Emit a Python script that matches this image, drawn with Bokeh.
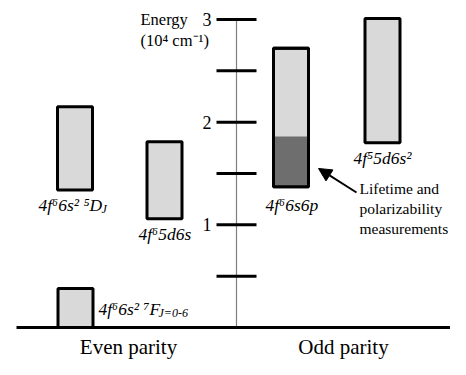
from bokeh.plotting import figure
from bokeh.models import Range1d, ColumnDataSource, Arrow, NormalHead
from bokeh.core.properties import value
from bokeh.embed import file_html
from bokeh.resources import INLINE

# ---- data (energies in 10^4 cm^-1) ----
configs = ["4f⁶6s² ⁷F", "4f⁶6s² ⁵D", "4f⁶5d6s", "4f⁶6s6p", "4f⁵5d6s²"]
subscripts = ["J=0-6", "J", "", "", ""]
e_low = [0.0, 1.34, 1.06, 1.37, 1.80]
e_high = [0.38, 2.15, 1.81, 2.72, 3.01]
measured_low = [1.37]
measured_high = [1.86]
tick_values = [0.5, 1.0, 1.5, 2.0, 2.5, 3.0]
tick_labels = ["1", "2", "3"]
tick_label_values = [1.0, 2.0, 3.0]
parity_labels = ["Even parity", "Odd parity"]
note_lines = ["Lifetime and", "polarizability", "measurements"]

# ---- layout (screen-x units, energy for y) ----
box_x = [75, 74.5, 164, 290.5, 382]
box_w = 35
label_x = [98, 38, 138, 265, 353]
label_y = [0.185, 1.19, 0.915, 1.19, 1.655]
sub_x = [158, 101, 0, 0, 0]
sub_y = [0.14, 1.15, 0, 0, 0]
axis_x = 236
FONT = value("Liberation Serif")

p = figure(width=450, height=359, output_backend="svg", toolbar_location=None,
           x_axis_type=None, y_axis_type=None,
           x_range=Range1d(0, 450), y_range=Range1d(-0.3116, 3.185),
           min_border=0, outline_line_color=None)
p.xgrid.visible = False
p.ygrid.visible = False

# energy axis: dotted vertical line + ticks
p.line([axis_x, axis_x], [0, 3.0], line_color="black", line_width=1.2, line_dash="1 1")
p.segment(x0=[axis_x - 20] * len(tick_values), x1=[axis_x + 20] * len(tick_values),
          y0=tick_values, y1=tick_values, line_color="black", line_width=3)
p.text(x=[211] * 3, y=tick_label_values, text=tick_labels, text_font=FONT,
       text_font_size="18px", text_align="right", text_baseline="middle")
p.text(x=[140, 140], y=[3.0, 2.795], text=["Energy", "(10⁴ cm⁻¹)"], text_font=FONT,
       text_font_size="16.5px", text_align="left", text_baseline="middle")

# baseline
p.line([16, 466], [0, 0], line_color="black", line_width=3)

# level boxes
src = ColumnDataSource(dict(left=[x - box_w / 2 for x in box_x],
                            right=[x + box_w / 2 for x in box_x],
                            bottom=e_low, top=e_high))
p.quad(left="left", right="right", bottom="bottom", top="top", source=src,
       fill_color="#d9d9d9", line_color="black", line_width=3)
# measured (dark) part of 4f6 6s6p
i6p = 3
p.quad(left=[box_x[i6p] - box_w / 2], right=[box_x[i6p] + box_w / 2],
       bottom=measured_low, top=measured_high,
       fill_color="#6e6e6e", line_color=None)
p.quad(left=[box_x[i6p] - box_w / 2], right=[box_x[i6p] + box_w / 2],
       bottom=[e_low[i6p]], top=[e_high[i6p]],
       fill_color=None, line_color="black", line_width=3)

# configuration labels
p.text(x=label_x, y=label_y, text=configs, text_font=FONT, text_font_style="italic",
       text_font_size="17.5px", text_align="left", text_baseline="middle")
sx = [sub_x[i] for i in range(len(subscripts)) if subscripts[i]]
sy = [sub_y[i] for i in range(len(subscripts)) if subscripts[i]]
st = [s for s in subscripts if s]
p.text(x=sx, y=sy, text=st, text_font=FONT, text_font_style="italic",
       text_font_size="12px", text_align="left", text_baseline="middle")

# note + arrow
p.text(x=[359] * 3, y=[1.354, 1.159, 0.964], text=note_lines, text_font=FONT,
       text_font_size="15.5px", text_align="left", text_baseline="middle")
p.add_layout(Arrow(end=NormalHead(size=13, fill_color="black", line_color="black"),
                   x_start=356, y_start=1.315, x_end=318, y_end=1.549,
                   line_color="black", line_width=2))

# parity labels
p.text(x=[128, 343], y=[-0.305, -0.305], text=parity_labels, text_font=FONT,
       text_font_size="21px", text_align="center", text_baseline="bottom")

open("out.html", "w").write(file_html(p, INLINE))
